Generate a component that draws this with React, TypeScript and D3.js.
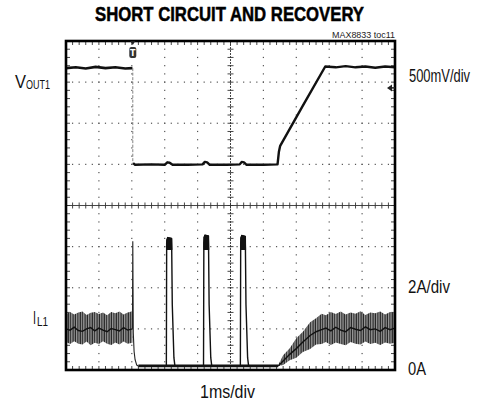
import React from 'react';
import * as d3 from 'd3';

const W = 486;
const H = 407;
const frame = { left: 66, right: 395, top: 41, bottom: 370 };

// screen is 10 x 8 divisions (1ms/div horizontally)
const X_DIVS = 10;
const Y_DIVS = 8;

// VOUT1 trace, values in screen divisions
const voutPreT = [0, 0.3, 0.6, 0.9, 1.2, 1.5, 1.8, 2.02];
const voutPreV = [7.34, 7.36, 7.33, 7.37, 7.34, 7.36, 7.33, 7.34];
const voutDropT = [2.03, 2.03];
const voutDropV = [7.34, 5.02];
const voutPostT = [2.04, 2.1, 2.6, 3.0, 3.08, 3.15, 3.24, 3.7, 4.15, 4.22, 4.29, 4.37, 4.9, 5.28, 5.34, 5.41, 5.49, 6.0, 6.43, 6.47, 6.51, 7.2, 7.88, 8.2, 8.5, 8.8, 9.1, 9.4, 9.7, 10];
const voutPostV = [5.03, 4.99, 5.0, 4.99, 5.05, 5.04, 4.99, 4.99, 5.0, 5.06, 5.05, 4.99, 4.99, 5.0, 5.06, 5.05, 4.99, 4.99, 5.0, 5.3, 5.45, 6.43, 7.38, 7.36, 7.39, 7.36, 7.38, 7.35, 7.38, 7.36];

// IL1 noisy band before the short
const ilPreT = [0, 0.125, 0.25, 0.375, 0.5, 0.625, 0.75, 0.875, 1.0, 1.125, 1.25, 1.375, 1.5, 1.625, 1.75, 1.875, 2.02];
const ilPreHi = [1.36, 1.41, 1.35, 1.40, 1.42, 1.34, 1.39, 1.41, 1.36, 1.40, 1.33, 1.41, 1.38, 1.42, 1.35, 1.40, 1.43];
const ilPreLo = [0.68, 0.63, 0.70, 0.64, 0.62, 0.69, 0.60, 0.66, 0.63, 0.70, 0.64, 0.61, 0.67, 0.62, 0.69, 0.64, 0.66];
const ilPreMid = [1.0, 0.97, 1.04, 0.96, 0.94, 1.0, 1.03, 0.95, 1.02, 0.97, 0.93, 1.01, 0.98, 0.95, 1.03, 0.97, 1.0];

// IL1 spike and decay at the short
const ilDecayT = [2.02, 2.03, 2.045, 2.07, 2.1, 2.15, 2.2];
const ilDecayV = [1.0, 3.13, 0.9, 0.45, 0.25, 0.12, 0.1];
const ilFloorT = [2.2, 6.45];
const ilFloorV = [0.1, 0.1];

// retry pulses
const pulseStart = [3.06, 4.19, 5.31];
const pulseTopEnd = [3.21, 4.33, 5.45];
const pulseEnd = [3.31, 4.43, 5.55];
const pulsePeak = [3.22, 3.28, 3.27];

// IL1 recovery band
const recT = [6.45, 6.6, 6.8, 7.0, 7.2, 7.42, 7.6, 7.77, 7.9, 8.05, 8.2, 8.35, 8.5, 8.65, 8.8, 8.95, 9.1, 9.25, 9.4, 9.55, 9.7, 9.85, 10];
const recHi = [0.12, 0.36, 0.53, 0.77, 0.93, 1.16, 1.26, 1.37, 1.33, 1.41, 1.36, 1.42, 1.35, 1.40, 1.37, 1.43, 1.34, 1.40, 1.38, 1.42, 1.35, 1.41, 1.40];
const recLo = [0.1, 0.12, 0.24, 0.30, 0.44, 0.51, 0.62, 0.63, 0.68, 0.61, 0.67, 0.63, 0.60, 0.68, 0.64, 0.62, 0.69, 0.63, 0.66, 0.61, 0.67, 0.64, 0.66];
const recMid = [0.1, 0.22, 0.38, 0.52, 0.68, 0.84, 0.93, 0.98, 1.02, 0.95, 1.04, 0.97, 0.93, 1.03, 0.99, 0.96, 1.05, 0.98, 1.0, 0.94, 1.03, 0.98, 1.02];

const TRIGGER_T = 2.03;
const REF_MARK = 6.86;

const sans = "'Liberation Sans', Arial, Helvetica, sans-serif";

const zip = (a: number[], b: number[]) => a.map((t, i) => [t, b[i]] as [number, number]);

export default function App() {
  const x = d3.scaleLinear().domain([0, X_DIVS]).range([frame.left, frame.right]);
  const y = d3.scaleLinear().domain([0, Y_DIVS]).range([frame.bottom, frame.top]);

  const line = d3.line<[number, number]>().x(d => x(d[0])).y(d => y(d[1]));
  const band = (t: number[], lo: number[], hi: number[]) =>
    d3.area<number>().x((_, i) => x(t[i])).y0((_, i) => y(lo[i])).y1((_, i) => y(hi[i]))(t) || '';

  const minorX = d3.range(0, X_DIVS * 5 + 1).map(k => k / 5);
  const minorY = d3.range(0, Y_DIVS * 5 + 1).map(k => k / 5);
  const majorX = d3.range(1, X_DIVS).filter(v => v !== X_DIVS / 2);
  const majorY = d3.range(1, Y_DIVS).filter(v => v !== Y_DIVS / 2);

  const pulses = pulseStart.map((s, i) => {
    const p = pulsePeak[i];
    const te = pulseTopEnd[i];
    const e = pulseEnd[i];
    return {
      outline: [[s - 0.01, 0.1], [s, 3.1], [s + 0.03, p], [te, p - 0.02], [te + 0.02, 1.6], [e - 0.03, 0.3], [e, 0.1]] as [number, number][],
      top: [[s, 2.92], [s, p - 0.05], [s + 0.03, p], [te, p - 0.02], [te + 0.01, 2.92]] as [number, number][],
    };
  });

  // condensed-looking text: small font stretched vertically, squeezed to measured width
  const label = (txt: string, x0: number, y0: number, w: number, size = 15.5) => (
    <text transform={`translate(${x0},${y0}) scale(1,1.16)`} fontFamily={sans} fontSize={size} fill="#111"
      textLength={w} lengthAdjust="spacingAndGlyphs">{txt}</text>
  );

  return (
    <svg width={W} height={H} style={{ position: 'absolute', left: 0, top: 0, background: '#fff' }}>
      <defs>
        <pattern id="noise" width={2.4} height={5} patternUnits="userSpaceOnUse">
          <rect width={2.4} height={5} fill="#9a9a9a" />
          <rect x={0.5} width={1.1} height={5} fill="#1e1e1e" />
        </pattern>
      </defs>

      {/* title */}
      <text x={95} y={21} fontFamily={sans} fontWeight={700} fontSize={20} stroke="#000" strokeWidth={0.5}
        textLength={269} lengthAdjust="spacingAndGlyphs">SHORT CIRCUIT AND RECOVERY</text>
      <text x={332} y={38} fontFamily={sans} fontSize={9.5} fill="#222"
        textLength={63} lengthAdjust="spacingAndGlyphs">MAX8833 toc11</text>

      {/* dotted graticule */}
      <g fill="#555">
        {majorX.map(v => minorY.map(m => (
          <rect key={`vx${v}-${m}`} x={x(v) - 0.6} y={y(m) - 0.6} width={1.2} height={1.2} />
        )))}
        {majorY.map(v => minorX.map(m => (
          <rect key={`hy${v}-${m}`} x={x(m) - 0.6} y={y(v) - 0.6} width={1.2} height={1.2} />
        )))}
      </g>

      {/* center cross with ticks */}
      <g stroke="#333" strokeWidth={0.9}>
        <line x1={x(X_DIVS / 2)} x2={x(X_DIVS / 2)} y1={y(Y_DIVS)} y2={y(0)} strokeDasharray="2,1" />
        <line x1={x(0)} x2={x(X_DIVS)} y1={y(Y_DIVS / 2)} y2={y(Y_DIVS / 2)} />
        {minorY.map(m => (
          <line key={`cy${m}`} x1={x(X_DIVS / 2) - 3} x2={x(X_DIVS / 2) + 3} y1={y(m)} y2={y(m)} />
        ))}
        {minorX.map(m => (
          <line key={`cx${m}`} x1={x(m)} x2={x(m)} y1={y(Y_DIVS / 2) - 3} y2={y(Y_DIVS / 2) + 3} />
        ))}
        {/* edge ticks */}
        {minorX.map(m => (
          <g key={`ex${m}`}>
            <line x1={x(m)} x2={x(m)} y1={frame.top} y2={frame.top + 4} />
            <line x1={x(m)} x2={x(m)} y1={frame.bottom} y2={frame.bottom - 4} />
          </g>
        ))}
        {minorY.map(m => (
          <g key={`ey${m}`}>
            <line x1={frame.left} x2={frame.left + 4} y1={y(m)} y2={y(m)} />
            <line x1={frame.right} x2={frame.right - 4} y1={y(m)} y2={y(m)} />
          </g>
        ))}
      </g>

      {/* VOUT1 */}
      <path d={line(zip(voutPreT, voutPreV)) || ''} fill="none" stroke="#111" strokeWidth={2.6} />
      <path d={line(zip(voutDropT, voutDropV)) || ''} fill="none" stroke="#777" strokeWidth={0.9} strokeDasharray="3,1.5" />
      <path d={line(zip(voutPostT, voutPostV)) || ''} fill="none" stroke="#111" strokeWidth={2.4} strokeLinejoin="round" />

      {/* IL1 */}
      <path d={band(ilPreT, ilPreLo, ilPreHi)} fill="url(#noise)" />
      <path d={line(zip(ilPreT, ilPreMid)) || ''} fill="none" stroke="#111" strokeWidth={1.4} />
      <path d={line(zip(ilDecayT, ilDecayV)) || ''} fill="none" stroke="#222" strokeWidth={1.1} />
      <path d={line(zip(ilFloorT, ilFloorV)) || ''} fill="none" stroke="#111" strokeWidth={2.6} />
      {pulses.map((p, i) => (
        <g key={`p${i}`}>
          <path d={line(p.outline) || ''} fill="none" stroke="#111" strokeWidth={1.4} strokeLinejoin="round" />
          <path d={line(p.top) || ''} fill="#111" stroke="#111" strokeWidth={1} />
        </g>
      ))}
      <path d={band(recT, recLo, recHi)} fill="url(#noise)" />
      <path d={line(zip(recT, recMid)) || ''} fill="none" stroke="#111" strokeWidth={1.4} />

      {/* frame */}
      <rect x={frame.left} y={frame.top} width={frame.right - frame.left} height={frame.bottom - frame.top}
        fill="none" stroke="#000" strokeWidth={2.6} />

      {/* trigger marker */}
      <path d={`M${x(TRIGGER_T) - 2.5},${frame.top} L${x(TRIGGER_T) + 2.5},${frame.top} L${x(TRIGGER_T)},${frame.top + 4}Z`} fill="#222" />
      <rect x={x(TRIGGER_T) - 3.5} y={frame.top + 6} width={7} height={11} rx={2} fill="#333" />
      <text x={x(TRIGGER_T)} y={frame.top + 15} textAnchor="middle" fontFamily="DejaVu Sans" fontWeight={700}
        fontSize={8} fill="#fff">T</text>

      {/* reference arrow */}
      <path d={`M${frame.right - 8},${y(REF_MARK)} L${frame.right - 3},${y(REF_MARK) - 3.5} L${frame.right - 3},${y(REF_MARK) + 3.5}Z`} fill="#222" />
      <line x1={frame.right - 4} x2={frame.right} y1={y(REF_MARK)} y2={y(REF_MARK)} stroke="#222" strokeWidth={1.5} />

      {/* channel labels */}
      {label('V', 15, 88, 11, 16)}
      {label('OUT1', 26, 89, 24, 11.5)}
      {label('I', 33, 324, 3, 16)}
      {label('L1', 37, 326, 11, 11.5)}

      {/* scale labels */}
      {label('500mV/div', 409, 82, 61)}
      {label('2A/div', 408, 293, 42)}
      {label('0A', 408, 375, 18)}
      {label('1ms/div', 200, 398, 55)}
    </svg>
  );
}
